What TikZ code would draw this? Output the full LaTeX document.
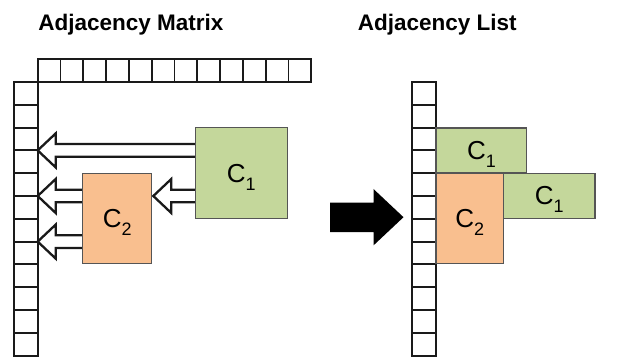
\documentclass[tikz,border=0pt]{standalone}
\usepackage{fontspec}
\setmainfont{Liberation Sans}
\usetikzlibrary{calc}
\definecolor{cgreen}{HTML}{C4D79B}
\definecolor{corange}{HTML}{F9BF8F}
\definecolor{cline}{HTML}{1A1A1A}
\definecolor{bline}{HTML}{555555}
\tikzset{
  hcell/.style={draw=cline, line width=1.9pt, minimum width=22.8pt, minimum height=22.8pt, inner sep=0pt, outer sep=0pt},
  vcell/.style={draw=cline, line width=1.9pt, minimum width=24pt, minimum height=22.8pt, inner sep=0pt, outer sep=0pt},
  cbox/.style={draw=bline, line width=1.2pt, inner sep=0pt, outer sep=0pt},
  green box/.style={cbox, fill=cgreen},
  orange box/.style={cbox, fill=corange},
  title/.style={font=\bfseries\fontsize{22.5}{24}\selectfont, inner sep=0pt, anchor=base},
  hollow/.style={draw=cline, line width=2.3pt, fill=white, line join=miter},
  bigarrow/.style={fill=black, draw=none}
}
\newcommand\Clab[1]{\fontsize{26}{26}\selectfont C\raisebox{-8pt}[0pt][0pt]{\fontsize{18}{18}\selectfont #1}}
\newcommand\hollowarr[2]{%
  \path[hollow] let \p1=(#1), \p2=(#2) in
    (\x1,\y2+6.3pt) -- (\x2+18pt,\y2+6.3pt) -- (\x2+18pt,\y2+17pt) -- (\x2,\y2)
    -- (\x2+18pt,\y2-17pt) -- (\x2+18pt,\y2-6.3pt) -- (\x1,\y2-6.3pt);}
\begin{document}
\begin{tikzpicture}[x=1pt,y=-1pt]
\useasboundingbox (0,0) rectangle (642,358);
% titles
\node[title] (tm) at (130.9,30.7) {Adjacency Matrix};
\node[title] (tl) at (437.3,30.7) {Adjacency List};
% cells
\foreach \k in {1,...,12} {
  \node[hcell] (mt\k) at ({37.7+(\k-0.5)*22.8},70.6) {};
  \node[vcell] (ml\k) at (25.7,{82+(\k-0.5)*22.8}) {};
  \node[vcell] (al\k) at (424,{82+(\k-0.5)*22.8}) {};
}
% boxes (positions)
\path (241.2,173.2) node[green box, minimum width=92pt, minimum height=91pt] (lc1) {\Clab{1}};
\path (117.2,218.5) node[orange box, minimum width=69pt, minimum height=90pt] (lc2) {\Clab{2}};
% hollow arrows (under boxes)
\hollowarr{lc1.west}{ml3.south east}
\hollowarr{lc2.west}{ml5.south east}
\hollowarr{lc2.west}{ml7.south east}
\coordinate (c2tip) at ($(lc2.east |- ml5.south east)+(1.6,0)$);
\hollowarr{lc1.west}{c2tip}
% redraw boxes on top
\path (241.2,173.2) node[green box, minimum width=92pt, minimum height=91pt] {\Clab{1}};
\path (117.2,218.5) node[orange box, minimum width=69pt, minimum height=90pt] {\Clab{2}};
% big arrow
\fill[bigarrow] (330,202.5) -- (373.5,202.5) -- (373.5,189) -- (403.5,217.2) -- (373.5,245.4) -- (373.5,232) -- (330,232) -- cycle;
% adjacency list boxes
\node[green box, minimum width=90.7pt, minimum height=45pt] (rc1a) at (481.4,150.6) {\Clab{1}};
\node[orange box, minimum width=67.3pt, minimum height=90.5pt] (rc2) at (469.7,218.4) {\Clab{2}};
\node[green box, minimum width=91.7pt, minimum height=45pt] (rc1b) at (549.2,195.8) {\Clab{1}};
\end{tikzpicture}
\end{document}
